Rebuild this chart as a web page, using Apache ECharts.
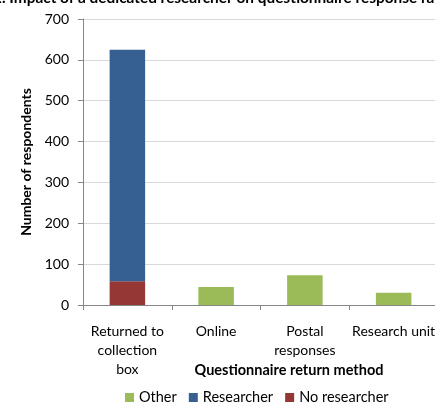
<!DOCTYPE html>
<html>
<head>
<meta charset="utf-8">
<script src="https://cdn.jsdelivr.net/npm/echarts@6/dist/echarts.min.js"></script>
<style>
  html, body { margin: 0; padding: 0; background: #fff; }
  #chart { width: 435px; height: 403px; }
</style>
</head>
<body>
<div id="chart"></div>
<script>
// Return methods along the x axis
const categories = ['Returned to\ncollection\nbox', 'Online', 'Postal\nresponses', 'Research unit'];

// Respondents per return method, split by who collected the questionnaire
const noResearcher = [58, '-', '-', '-'];
const researcher = [567, '-', '-', '-'];
const other = ['-', 44, 73, 30];

const yTicks = { min: 0, max: 700, interval: 100 };

const FONT = 'Lato, "Liberation Sans", sans-serif';

const chart = echarts.init(document.getElementById('chart'), null, { renderer: 'canvas' });

chart.setOption({
  animation: false,
  textStyle: { fontFamily: FONT },
  graphic: [
    {
      type: 'text',
      x: -7,
      y: 6,
      style: {
        text: '2. Impact of a dedicated researcher on questionnaire response rates',
        font: 'bold 15.4px ' + FONT,
        fill: '#000',
        align: 'left',
        verticalAlign: 'bottom'
      }
    },
    {
      type: 'text',
      x: 289,
      y: 370,
      style: {
        text: 'Questionnaire return method',
        font: 'bold 14.5px ' + FONT,
        fill: '#000',
        align: 'center',
        verticalAlign: 'middle'
      }
    }
  ],
  legend: {
    data: ['Other', 'Researcher', 'No researcher'],
    top: 385,
    left: 120,
    itemWidth: 9,
    itemHeight: 9,
    itemGap: 12,
    icon: 'rect',
    textStyle: { fontSize: 14.5, color: '#000', fontFamily: FONT }
  },
  grid: {
    left: 83,
    right: -3,
    top: 19,
    bottom: 98,
    containLabel: false,
    outerBoundsMode: 'none'
  },
  xAxis: {
    type: 'category',
    data: categories,
    boundaryGap: true,
    axisLine: { show: true, lineStyle: { color: '#868686', width: 1 } },
    axisTick: { show: true, length: 5, lineStyle: { color: '#868686' } },
    axisLabel: {
      interval: 0,
      margin: 17,
      fontSize: 14,
      lineHeight: 19,
      color: '#000',
      fontFamily: FONT
    },
    splitLine: { show: false }
  },
  yAxis: {
    type: 'value',
    min: yTicks.min,
    max: yTicks.max,
    interval: yTicks.interval,
    name: 'Number of respondents',
    nameLocation: 'middle',
    nameGap: 50,
    nameTextStyle: { fontSize: 14, fontWeight: 'bold', color: '#000', fontFamily: FONT },
    axisLine: { show: true, lineStyle: { color: '#868686', width: 1 } },
    axisTick: { show: true, length: 5, lineStyle: { color: '#868686' } },
    axisLabel: { margin: 14, fontSize: 14, color: '#000', fontFamily: FONT },
    splitLine: { show: true, lineStyle: { color: '#d9d9d9', width: 1 } }
  },
  series: [
    {
      name: 'No researcher',
      type: 'bar',
      stack: 'total',
      barWidth: '40%',
      data: noResearcher,
      itemStyle: { color: '#953735' }
    },
    {
      name: 'Researcher',
      type: 'bar',
      stack: 'total',
      barWidth: '40%',
      data: researcher,
      itemStyle: { color: '#376092' }
    },
    {
      name: 'Other',
      type: 'bar',
      stack: 'total',
      barWidth: '40%',
      data: other,
      itemStyle: { color: '#9BBB59' }
    }
  ]
});
</script>
</body>
</html>
